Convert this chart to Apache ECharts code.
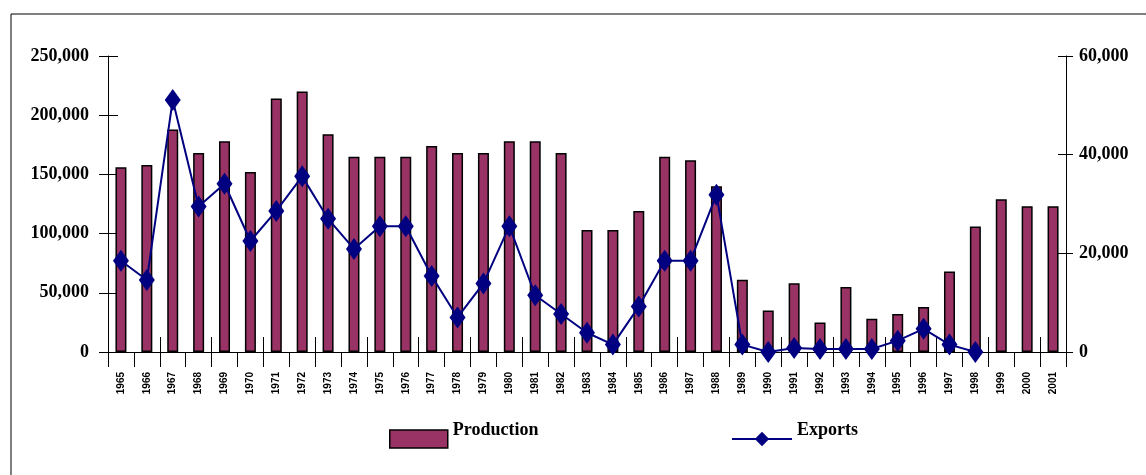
<!DOCTYPE html>
<html>
<head>
<meta charset="utf-8">
<script src="https://cdn.jsdelivr.net/npm/echarts@6/dist/echarts.min.js"></script>
<style>
  html, body { margin: 0; padding: 0; background: #fff; }
  #chart { width: 1146px; height: 475px; }
</style>
</head>
<body>
<div id="chart"></div>
<script>
// Years on the category axis
const years = [
  '1965','1966','1967','1968','1969','1970','1971','1972','1973','1974',
  '1975','1976','1977','1978','1979','1980','1981','1982','1983','1984',
  '1985','1986','1987','1988','1989','1990','1991','1992','1993','1994',
  '1995','1996','1997','1998','1999','2000','2001'
];

// Production (left axis)
const production = [
  156000, 158000, 188000, 168000, 178000, 152000, 214000, 220000, 184000, 165000,
  165000, 165000, 174000, 168000, 168000, 178000, 178000, 168000, 103000, 103000,
  119000, 165000, 162000, 140000, 61000, 35000, 58000, 25000, 55000, 28000,
  32000, 38000, 68000, 106000, 129000, 123000, 123000
];

// Exports (right axis); no figures after 1998
const exportsData = [
  18500, 14600, 51100, 29500, 34100, 22500, 28600, 35600, 27000, 20900,
  25500, 25500, 15400, 7000, 13900, 25500, 11500, 7700, 3900, 1500,
  9200, 18500, 18500, 31900, 1500, 0, 800, 600, 600, 600,
  2300, 4700, 1500, 0, null, null, null
];

// Axis ranges and ticks
const leftMax = 250000, leftStep = 50000;
const rightMax = 60000, rightStep = 20000;

const fmt = v => v.toLocaleString('en-US');
const serif = '"Liberation Serif", "Times New Roman", serif';
const navy = '#000080';
const plum = '#993366';

const chart = echarts.init(document.getElementById('chart'));

const tickStyle = { color: '#000', width: 1 };

// Legend labels sit a little above the middle of their keys
const legendText = {
  fontFamily: serif, fontWeight: 'bold', fontSize: 18, color: '#000',
  rich: {
    t: { fontFamily: serif, fontWeight: 'bold', fontSize: 18, color: '#000', padding: [0, 0, 18, 0] }
  }
};

chart.setOption({
  animation: false,
  backgroundColor: '#fff',
  graphic: [{
    type: 'rect',
    shape: { x: 11, y: 14, width: 1300, height: 600 },
    style: { fill: 'none', stroke: '#000', lineWidth: 1 },
    silent: true
  }],
  grid: { left: 108, right: 80, top: 56, bottom: 123, containLabel: false },
  legend: [{
    data: [{ name: 'Production', icon: 'rect' }],
    left: 384, top: 416,
    itemWidth: 58, itemHeight: 18, itemGap: 6,
    formatter: '{t|{name}}',
    itemStyle: { borderColor: '#000', borderWidth: 1.5 },
    textStyle: legendText
  }, {
    data: ['Exports'],
    left: 726, top: 416,
    itemWidth: 60, itemHeight: 18, itemGap: 6,
    formatter: '{t|{name}}',
    textStyle: legendText
  }],
  xAxis: [{
    type: 'category',
    data: years,
    boundaryGap: true,
    axisLine: { show: true, lineStyle: { color: '#000', width: 1 } },
    axisTick: { show: true, inside: false, length: 15, lineStyle: tickStyle },
    axisLabel: {
      rotate: 90, margin: 20, interval: 0,
      fontFamily: '"Liberation Sans Narrow", "Liberation Sans", Arial, sans-serif',
      fontWeight: 'bold', fontSize: 10, color: '#000'
    },
    splitLine: { show: false }
  }, {
    type: 'category',
    data: years,
    boundaryGap: true,
    position: 'bottom',
    axisLine: { show: false },
    axisTick: { show: true, inside: true, length: 15, lineStyle: tickStyle },
    axisLabel: { show: false },
    splitLine: { show: false }
  }],
  yAxis: [{
    type: 'value', position: 'left',
    min: 0, max: leftMax, interval: leftStep,
    axisLine: { show: true, lineStyle: { color: '#000', width: 1 } },
    axisTick: { show: true, inside: false, length: 9, lineStyle: tickStyle },
    axisLabel: { margin: 19, fontFamily: serif, fontWeight: 'bold', fontSize: 18, color: '#000', formatter: fmt },
    splitLine: { show: false }
  }, {
    type: 'value', position: 'right',
    min: 0, max: rightMax, interval: rightStep,
    axisLine: { show: true, lineStyle: { color: '#000', width: 1 } },
    axisTick: { show: true, inside: false, length: 7, lineStyle: tickStyle },
    axisLabel: { margin: 13, fontFamily: serif, fontWeight: 'bold', fontSize: 18, color: '#000', formatter: fmt },
    splitLine: { show: false }
  }, {
    type: 'value', position: 'left',
    min: 0, max: leftMax, interval: leftStep,
    axisLine: { show: false },
    axisTick: { show: true, inside: true, length: 10, lineStyle: tickStyle },
    axisLabel: { show: false },
    splitLine: { show: false }
  }, {
    type: 'value', position: 'right',
    min: 0, max: rightMax, interval: rightStep,
    axisLine: { show: false },
    axisTick: { show: true, inside: true, length: 8, lineStyle: tickStyle },
    axisLabel: { show: false },
    splitLine: { show: false }
  }],
  series: [{
    name: 'Production',
    type: 'bar',
    xAxisIndex: 0, yAxisIndex: 0,
    data: production,
    barWidth: 11,
    itemStyle: { color: plum, borderColor: '#000', borderWidth: 1.5 }
  }, {
    name: 'Exports',
    type: 'line',
    xAxisIndex: 0, yAxisIndex: 1,
    data: exportsData,
    symbol: 'diamond',
    symbolSize: [16, 22],
    connectNulls: false,
    lineStyle: { color: navy, width: 2 },
    itemStyle: { color: navy, borderColor: navy, borderWidth: 0 },
    z: 5
  }]
});
</script>
</body>
</html>
